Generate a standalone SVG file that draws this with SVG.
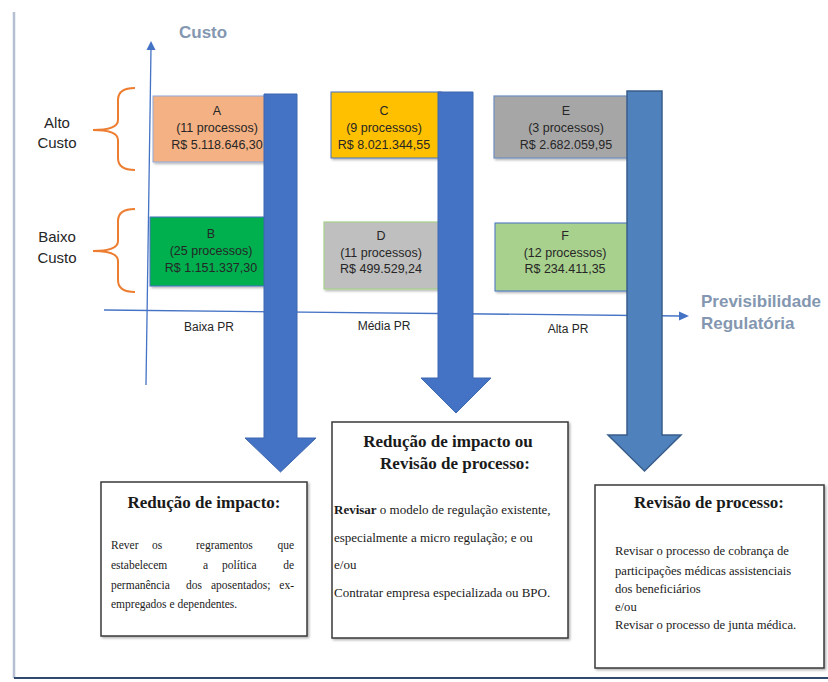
<svg xmlns="http://www.w3.org/2000/svg" width="828" height="682" viewBox="0 0 828 682">
<style>
.sans{font-family:"Liberation Sans",Arial,sans-serif;}
.serif{font-family:"Liberation Serif","Times New Roman",serif;fill:#1a1a1a;}
.nt{font-size:12.5px;fill:#262626;text-anchor:middle;}
.ax{font-size:12px;fill:#262626;text-anchor:middle;}
.side{font-size:15px;fill:#262626;text-anchor:middle;}
.big{font-size:17px;font-weight:bold;fill:#8497b0;}
.title{font-size:17px;font-weight:bold;text-anchor:middle;}
.b1{font-size:11.5px;}
.b2{font-size:13px;}
.b3{font-size:12.6px;}
.end{text-anchor:end;}
.tb{fill:#ffffff;stroke:#3a3a3a;stroke-width:1.5;}
.axis{stroke:#4472c4;stroke-width:1.3;fill:none;}
.brace{stroke:#ed7d31;stroke-width:2;fill:none;}
.bar{fill:#4472c4;stroke:#3c66b0;stroke-width:1;}
.bar3{fill:#4f81bd;stroke:#385d8a;stroke-width:1.5;}
</style>
<defs>
<filter id="sh" x="-10%" y="-10%" width="130%" height="130%">
<feDropShadow dx="1.5" dy="1.5" stdDeviation="1.2" flood-color="#000" flood-opacity="0.3"/>
</filter>
</defs>
<rect width="828" height="682" fill="#ffffff"/>
<!-- frame -->
<line x1="14" y1="12" x2="14" y2="678" stroke="#b4c0d2" stroke-width="2.5"/>
<line x1="14" y1="678" x2="828" y2="678" stroke="#2f4a6d" stroke-width="2"/>

<!-- labels -->
<text class="sans big" x="179" y="38">Custo</text>
<text class="sans big" x="701" y="307">Previsibilidade</text>
<text class="sans big" x="701" y="329">Regulatória</text>
<text class="sans side" x="57" y="128">Alto</text>
<text class="sans side" x="57" y="148">Custo</text>
<text class="sans side" x="57" y="242">Baixo</text>
<text class="sans side" x="57" y="263">Custo</text>
<path class="brace" d="M135,88 Q118,88 118,100 V120 Q118,130 93,130 Q118,130 118,140 V158 Q118,170 135,170"/>
<path class="brace" d="M135,209 Q118,209 118,221 V241 Q118,251 93,251 Q118,251 118,261 V280 Q118,292 135,292"/>
<text class="sans ax" x="209" y="331">Baixa PR</text>
<text class="sans ax" x="384" y="330">Média PR</text>
<text class="sans ax" x="568" y="333">Alta PR</text>

<!-- nodes -->
<g id="nodeA">
<rect x="153" y="96" width="114" height="66" fill="#f4b183" stroke="#8faadc" stroke-width="1" filter="url(#sh)"/>
<text class="sans nt" x="217" y="115">A</text>
<text class="sans nt" x="217" y="132">(11 processos)</text>
<text class="sans nt" x="217" y="149">R$ 5.118.646,30</text>
</g>
<g id="nodeB">
<rect x="150" y="217" width="117" height="69" fill="#00b050" stroke="#4472c4" stroke-width="1" filter="url(#sh)"/>
<text class="sans nt" x="211" y="238">B</text>
<text class="sans nt" x="211" y="255">(25 processos)</text>
<text class="sans nt" x="211" y="272">R$ 1.151.337,30</text>
</g>
<g id="nodeC">
<rect x="331" y="92" width="110" height="66" fill="#ffc000" stroke="#4472c4" stroke-width="1" filter="url(#sh)"/>
<text class="sans nt" x="384" y="115">C</text>
<text class="sans nt" x="384" y="132">(9 processos)</text>
<text class="sans nt" x="384" y="149">R$ 8.021.344,55</text>
</g>
<g id="nodeD">
<rect x="324" y="222" width="117" height="67" fill="#bfbfbf" stroke="#a9d18e" stroke-width="1.2" filter="url(#sh)"/>
<text class="sans nt" x="381" y="240">D</text>
<text class="sans nt" x="381" y="257">(11 processos)</text>
<text class="sans nt" x="381" y="273">R$ 499.529,24</text>
</g>
<g id="nodeE">
<rect x="494" y="96" width="136" height="62" fill="#a6a6a6" stroke="#6f8fc0" stroke-width="1.2" filter="url(#sh)"/>
<text class="sans nt" x="566" y="115">E</text>
<text class="sans nt" x="566" y="132">(3 processos)</text>
<text class="sans nt" x="566" y="149">R$ 2.682.059,95</text>
</g>
<g id="nodeF">
<rect x="495" y="223" width="135" height="68" fill="#a9d18e" stroke="#4472c4" stroke-width="1" filter="url(#sh)"/>
<text class="sans nt" x="565" y="240">F</text>
<text class="sans nt" x="565" y="257">(12 processos)</text>
<text class="sans nt" x="565" y="273">R$ 234.411,35</text>
</g>

<!-- connectors -->
<g id="connectors">
<line class="axis" x1="151" y1="48" x2="146" y2="385"/>
<path d="M151,41 L155.5,50 L146.5,50 Z" fill="#4472c4"/>
<line class="axis" x1="104" y1="310" x2="680" y2="316"/>
<path d="M689,316 L679,311.5 L679,320.5 Z" fill="#4472c4"/>
<path class="bar" d="M264,94 H297 V438 H316 L280.5,472 L245,438 H264 Z"/>
<path class="bar" d="M438,92 H473 V378 H491 L456,413 L421,378 H438 Z"/>
<path class="bar3" d="M627,91 H662 V435 H681 L644.5,471 L608,435 H627 Z"/>
</g>

<!-- text boxes -->
<g id="box1">
<rect class="tb" x="101" y="482" width="206" height="154" filter="url(#sh)"/>
<text class="serif title" x="204" y="508">Redução de impacto:</text>
<text class="serif b1" y="549"><tspan x="111">Rever</tspan><tspan x="152">os</tspan><tspan x="196">regramentos</tspan></text>
<text class="serif b1 end" x="294" y="549">que</text>
<text class="serif b1" y="569"><tspan x="111">estabelecem</tspan><tspan x="203">a</tspan><tspan x="222">política</tspan></text>
<text class="serif b1 end" x="294" y="569">de</text>
<text class="serif b1" y="589"><tspan x="111">permanência</tspan><tspan x="186">dos</tspan><tspan x="211">aposentados;</tspan></text>
<text class="serif b1 end" x="294" y="589">ex-</text>
<text class="serif b1" x="111" y="608">empregados e dependentes.</text>
</g>
<g id="box2">
<rect class="tb" x="332" y="422" width="236" height="216" filter="url(#sh)"/>
<text class="serif title" x="448" y="447">Redução de impacto ou</text>
<text class="serif title" x="455" y="469">Revisão de processo:</text>
<text class="serif b2" x="334" y="514"><tspan font-weight="bold">Revisar</tspan> o modelo de regulação existente,</text>
<text class="serif b2" x="334" y="542">especialmente a micro regulação; e ou</text>
<text class="serif b2" x="334" y="569">e/ou</text>
<text class="serif b2" x="334" y="597">Contratar empresa especializada ou BPO.</text>
</g>
<g id="box3">
<rect class="tb" x="595" y="485" width="229" height="183" filter="url(#sh)"/>
<text class="serif title" x="709" y="508">Revisão de processo:</text>
<text class="serif b3" x="615" y="555">Revisar o processo de cobrança de</text>
<text class="serif b3" x="615" y="575">participações médicas assistenciais</text>
<text class="serif b3" x="615" y="593">dos beneficiários</text>
<text class="serif b3" x="615" y="611">e/ou</text>
<text class="serif b3" x="615" y="629">Revisar o processo de junta médica.</text>
</g>
</svg>
